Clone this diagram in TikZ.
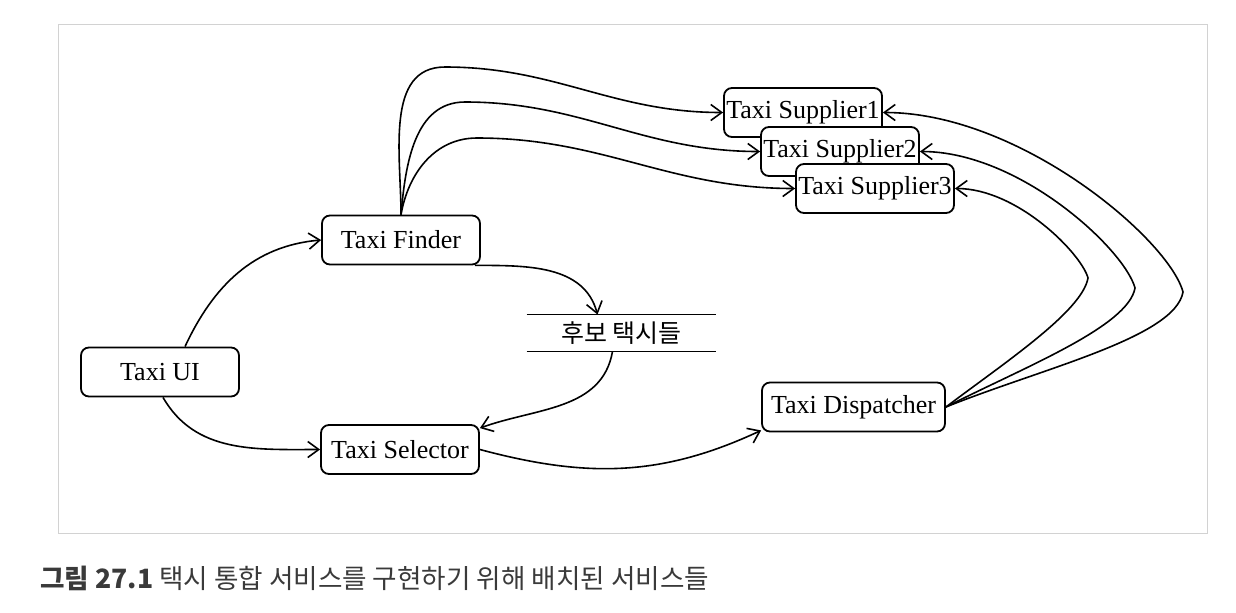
\documentclass[tikz,border=0pt]{standalone}
\usepackage{fontspec}
\setmainfont{Liberation Serif}
\newfontfamily\kofont{Noto Sans CJK KR}
\usetikzlibrary{arrows.meta}
\definecolor{captiongray}{HTML}{3A3A3A}
\definecolor{framegray}{HTML}{D2D2D2}
\begin{document}
\begin{tikzpicture}[x=0.5pt,y=0.5pt,
  svc/.style={draw,line width=0.9pt,rounded corners=4pt,fill=white,minimum width=79pt,minimum height=24.5pt,inner xsep=1pt,font=\fontsize{13}{15}\selectfont},
  flow/.style={line width=0.8pt,-{Straight Barb[length=5.5pt,width=8pt]}}]
\useasboundingbox (0,0) rectangle (1236,-612);
\draw[framegray,line width=0.5pt] (58,-24) rectangle (1207,-533);

\node[svc] (ui) at (160,-372) {Taxi UI};
\node[svc] (finder) at (401,-240) {Taxi Finder};
\node[svc] (selector) at (400,-449.5) {Taxi Selector};
\node[svc,minimum width=91.5pt] (dispatcher) at (853.5,-407) {Taxi Dispatcher};
\node[svc] (s1) at (803,-112.5) {Taxi Supplier1};
\node[svc] (s2) at (840,-151.5) {Taxi Supplier2};
\node[svc] (s3) at (875,-188.5) {Taxi Supplier3};

\node[minimum width=94.5pt,minimum height=17pt,font=\kofont\fontsize{12.5}{14}\selectfont] (store) at (621.5,-333) {후보 택시들};
\draw[line width=0.8pt] (store.north west) -- (store.north east);
\draw[line width=0.8pt] (store.south west) -- (store.south east);

\draw[flow] ([xshift=12.5pt]ui.north) to[out=65,in=185] (finder.west);
\draw[flow] ([xshift=1.5pt]ui.south) to[out=-60,in=180] (selector.west);
\draw[flow] ([xshift=-3pt]finder.south east) to[out=0,in=105] ([xshift=-12pt]store.north);
\draw[flow] ([xshift=-4.5pt]store.south) to[out=-100,in=20] ([yshift=-2pt]selector.north east);
\draw[flow] (selector.east) to[out=-15,in=205] ([yshift=1pt]dispatcher.south west);

\draw[flow] (finder.north) to[out=90,in=180] (445,-67) to[out=0,in=180] (s1.west);
\draw[flow] (finder.north) to[out=85,in=180] (465,-102) to[out=0,in=180] (s2.west);
\draw[flow] (finder.north) to[out=80,in=180] (477,-138) to[out=0,in=180] (s3.west);

\draw[flow] (dispatcher.east) to[out=22,in=-100,in looseness=0.45] (1183,-292) to[out=105,in=0,out looseness=0.4] (s1.east);
\draw[flow] (dispatcher.east) to[out=27,in=-100,in looseness=0.45] (1135,-288) to[out=105,in=0,out looseness=0.4] (s2.east);
\draw[flow] (dispatcher.east) to[out=37,in=-100,in looseness=0.45] (1088,-278) to[out=105,in=0,out looseness=0.4] (s3.east);

\node[anchor=west,inner sep=0pt,text=captiongray,font=\kofont\fontsize{13.3}{15}\selectfont] (caption) at (40,-578) {{\bfseries 그림 27.1} 택시 통합 서비스를 구현하기 위해 배치된 서비스들};
\end{tikzpicture}
\end{document}
